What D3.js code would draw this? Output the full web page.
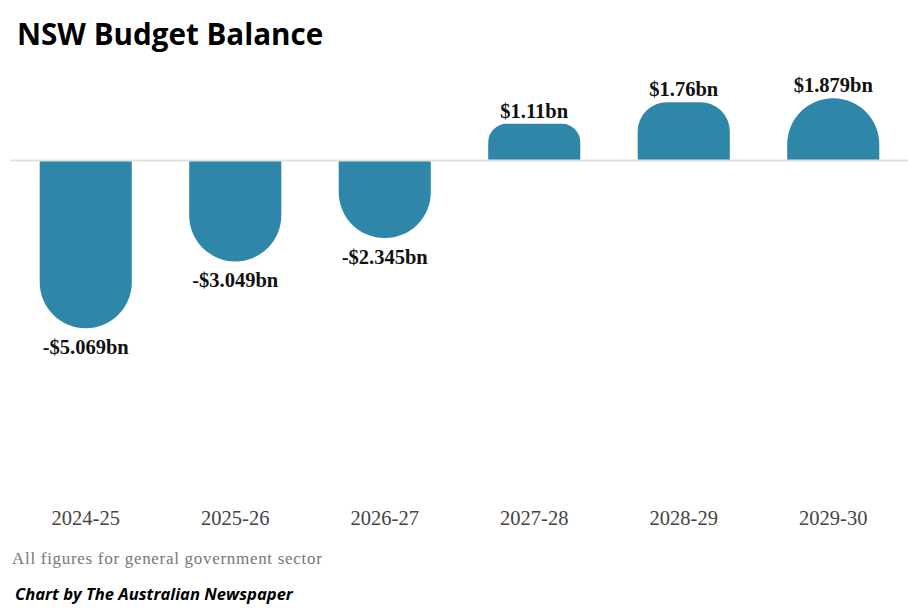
<!DOCTYPE html>
<html>
<head>
<meta charset="utf-8">
<script src="https://cdn.jsdelivr.net/npm/d3@7"></script>
<style>
	body { margin: 0; background: #fff; }
	svg { display: block; }
</style>
</head>
<body>
<div id="chartContent"></div>
<script>
// data
var years = ["2024-25", "2025-26", "2026-27", "2027-28", "2028-29", "2029-30"];
var balances = [-5.069, -3.049, -2.345, 1.11, 1.76, 1.879];
var valueLabels = ["-$5.069bn", "-$3.049bn", "-$2.345bn", "$1.11bn", "$1.76bn", "$1.879bn"];

var chartTitle = "NSW Budget Balance";
var noteText = "All figures for general government sector";
var creditText = "Chart by The Australian Newspaper";

var width = 908, height = 610;

var svg = d3.select("#chartContent")
	.append("svg")
		.attr("width", width)
		.attr("height", height);

var x = d3.scaleBand()
	.domain(years)
	.range([11, 908])
	.paddingInner(0.384)
	.paddingOuter(0.192);

var y = d3.scaleLinear()
	.domain([-6, 2])
	.range([359.1, 94.3]);

// bar with the far end rounded
function barPath(d, i) {
	var x0 = x(years[i]), w = x.bandwidth();
	var y0 = y(0), y1 = y(d);
	var h = Math.abs(y1 - y0);
	var r = h > 60 ? w / 2 : h / 2;
	if (d >= 0) {
		return "M" + x0 + "," + y0 +
			"V" + (y1 + r) +
			"A" + r + "," + r + " 0 0 1 " + (x0 + r) + "," + y1 +
			"H" + (x0 + w - r) +
			"A" + r + "," + r + " 0 0 1 " + (x0 + w) + "," + (y1 + r) +
			"V" + y0 + "Z";
	} else {
		return "M" + x0 + "," + y0 +
			"V" + (y1 - r) +
			"A" + r + "," + r + " 0 0 0 " + (x0 + r) + "," + y1 +
			"H" + (x0 + w - r) +
			"A" + r + "," + r + " 0 0 0 " + (x0 + w) + "," + (y1 - r) +
			"V" + y0 + "Z";
	}
}

svg.selectAll(".bar")
	.data(balances)
	.enter()
	.append("path")
		.attr("class", "bar")
		.attr("d", barPath)
		.attr("fill", "#2e87a8");

// zero line
svg.append("line")
	.attr("x1", 10)
	.attr("x2", width)
	.attr("y1", y(0))
	.attr("y2", y(0))
	.attr("stroke", "#e2e2dd")
	.attr("stroke-width", 2);

// value labels
svg.selectAll(".value")
	.data(balances)
	.enter()
	.append("text")
		.attr("class", "value")
		.attr("x", function(d, i) { return x(years[i]) + x.bandwidth() / 2; })
		.attr("y", function(d) { return d >= 0 ? y(d) - 6 : y(d) + 26; })
		.attr("text-anchor", "middle")
		.style("font-family", "'Liberation Serif', serif")
		.style("font-weight", "bold")
		.style("font-size", "20.5px")
		.style("fill", "#111")
		.text(function(d, i) { return valueLabels[i]; });

// category axis
var xAxis = svg.append("g")
	.attr("transform", "translate(0,510)")
	.call(d3.axisBottom(x).tickSize(0).tickPadding(0));
xAxis.select(".domain").remove();
xAxis.selectAll("text")
	.attr("dy", "0.71em")
	.style("font-family", "'Liberation Serif', serif")
	.style("font-size", "20.5px")
	.style("fill", "#444");

// title
svg.append("text")
	.attr("x", 17)
	.attr("y", 45)
	.style("font-family", "'Open Sans', sans-serif")
	.style("font-weight", "bold")
	.style("font-size", "29.6px")
	.style("fill", "#000")
	.text(chartTitle);

svg.append("text")
	.attr("x", 12)
	.attr("y", 564)
	.style("font-family", "'Liberation Serif', serif")
	.style("font-size", "17px")
	.style("letter-spacing", "0.7px")
	.style("fill", "#777")
	.text(noteText);

svg.append("text")
	.attr("x", 15)
	.attr("y", 600)
	.style("font-family", "'Open Sans', sans-serif")
	.style("font-weight", "bold")
	.style("font-style", "italic")
	.style("font-size", "16.6px")
	.style("fill", "#000")
	.text(creditText);
</script>
</body>
</html>
